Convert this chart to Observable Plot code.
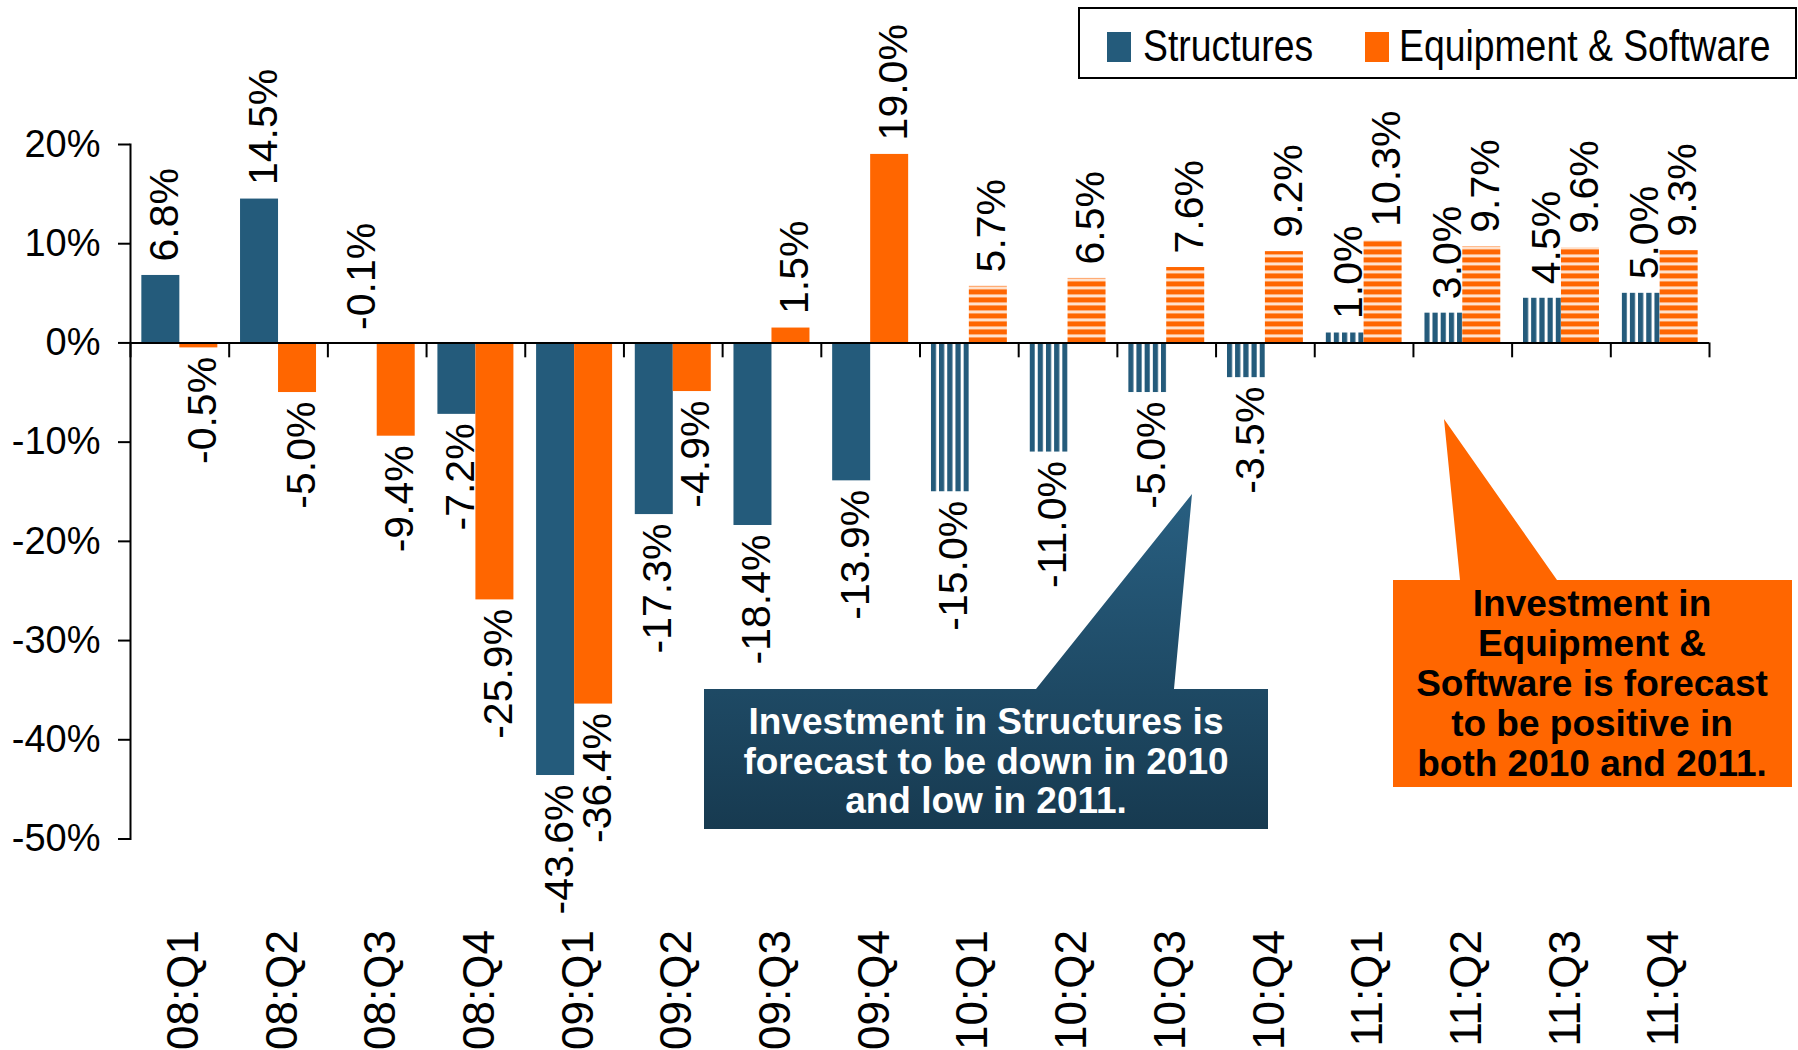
<!DOCTYPE html>
<html><head><meta charset="utf-8">
<script src="https://cdn.jsdelivr.net/npm/d3@7"></script>
<script src="https://cdn.jsdelivr.net/npm/@observablehq/plot@0.6"></script>
<style>
body{margin:0;background:#fff;}
#chart{width:1798px;height:1050px;}
</style></head><body><div id="chart"></div>
<script>
const quarters = ["08:Q1","08:Q2","08:Q3","08:Q4","09:Q1","09:Q2","09:Q3","09:Q4","10:Q1","10:Q2","10:Q3","10:Q4","11:Q1","11:Q2","11:Q3","11:Q4"];
const structures = [6.8,14.5,-0.1,-7.2,-43.6,-17.3,-18.4,-13.9,-15.0,-11.0,-5.0,-3.5,1.0,3.0,4.5,5.0];
const equipment = [-0.5,-5.0,-9.4,-25.9,-36.4,-4.9,1.5,19.0,5.7,6.5,7.6,9.2,10.3,9.7,9.6,9.3];
const forecastFrom = "10:Q1";
const yTicks = [-50,-40,-30,-20,-10,0,10,20];
const seriesNames = ["Structures","Equipment & Software"];
const seriesColors = ["#245b7b","#ff6600"];
const calloutStructures = ["Investment in Structures is","forecast to be down in 2010","and low in 2011."];
const calloutEquipment = ["Investment in","Equipment &","Software is forecast","to be positive in","both 2010 and 2011."];

const W = 1798, H = 1050;
const mL = 130, mR = 89, mT = 144, mB = 211.5;
const bw = (W - mL - mR) / quarters.length;
const barW = 38;
const outer = (bw - 2 * barW) / 2;
const fIdx = quarters.indexOf(forecastFrom);

const rows = quarters.flatMap((q, i) => [
  {quarter: q, series: seriesNames[0], value: structures[i], forecast: i >= fIdx},
  {quarter: q, series: seriesNames[1], value: equipment[i], forecast: i >= fIdx}
]);
const S = rows.filter(d => d.series === seriesNames[0]);
const E = rows.filter(d => d.series === seriesNames[1]);
const isAbove = d => d.value > -0.3;
const fmt = d => d.value.toFixed(1) + "%";

const sInset = {insetLeft: outer, insetRight: bw - outer - barW};
const eInset = {insetLeft: outer + barW, insetRight: outer};
const sDx = -bw / 2 + outer + barW / 2 + 4;
const eDx = -bw / 2 + outer + barW * 1.5 + 4;

const labelMark = (data, dx, above) => Plot.text(data.filter(d => above ? isAbove(d) : !isAbove(d)), {
  x: "quarter", y: "value", text: fmt, rotate: -90,
  textAnchor: above ? "start" : "end", dx, dy: above ? -14 : 9,
  fontSize: 41, fill: "#000", ariaLabel: "value labels"
});

const svg = Plot.plot({
  width: W, height: H, marginLeft: mL, marginRight: mR, marginTop: mT, marginBottom: mB,
  style: {fontFamily: "'Liberation Sans', Arial, sans-serif", color: "#000", background: "#fff", overflow: "visible"},
  x: {type: "band", domain: quarters, padding: 0, round: false},
  y: {domain: [-50, 20]},
  marks: [
    Plot.barY(S.filter(d => !d.forecast), {x: "quarter", y: "value", fill: seriesColors[0], ...sInset}),
    Plot.barY(S.filter(d => d.forecast), {x: "quarter", y: "value", fill: "url(#stripeV)", ...sInset}),
    Plot.barY(E.filter(d => !d.forecast), {x: "quarter", y: "value", fill: seriesColors[1], ...eInset}),
    Plot.barY(E.filter(d => d.forecast), {x: "quarter", y: "value", fill: "url(#stripeH)", ...eInset}),
    Plot.ruleY([0], {stroke: "#000", strokeWidth: 2}),
    Plot.ruleX(quarters, {x: d => d, y1: 0, y2: -1.5, dx: -bw / 2, stroke: "#000", strokeWidth: 2}),
    Plot.ruleX(quarters.slice(-1), {x: d => d, y1: 0, y2: -1.5, dx: bw / 2, stroke: "#000", strokeWidth: 2}),
    Plot.frame({anchor: "left", stroke: "#000", strokeWidth: 2}),
    Plot.axisY({ticks: yTicks, tickFormat: d => d + "%", tickSize: 12, tickPadding: 18, fontSize: 38, strokeWidth: 2, label: null}),
    Plot.axisX({tickRotate: -90, tickSize: 0, tickPadding: 91, fontSize: 44, dx: 4, label: null}),
    labelMark(S, sDx, true), labelMark(S, sDx, false),
    labelMark(E, eDx, true), labelMark(E, eDx, false)
  ]
});
document.getElementById("chart").appendChild(svg);

const root = d3.select(svg);
root.selectAll('g[aria-label="value labels"] text').attr("transform", function() {
  return this.getAttribute("transform") + " scale(0.87,1)";
});

const y0 = mT + (H - mT - mB) * (20 / 70);
const defs = root.insert("defs", ":first-child");
const pv = defs.append("pattern").attr("id", "stripeV").attr("patternUnits", "objectBoundingBox")
  .attr("width", 8.2 / barW).attr("height", 1);
pv.append("rect").attr("width", 5.2).attr("height", 2000).attr("fill", seriesColors[0]);
const ph = defs.append("pattern").attr("id", "stripeH").attr("patternUnits", "userSpaceOnUse")
  .attr("x", 0).attr("y", y0).attr("width", 2000).attr("height", 8);
ph.append("rect").attr("width", 2000).attr("height", 3).attr("fill", "#ffe1cc");
ph.append("rect").attr("y", 3).attr("width", 2000).attr("height", 5).attr("fill", seriesColors[1]);
const gr = defs.append("linearGradient").attr("id", "calloutGrad").attr("x1", 0).attr("y1", 0).attr("x2", 0).attr("y2", 1);
gr.append("stop").attr("offset", 0).attr("stop-color", "#285f81");
gr.append("stop").attr("offset", 1).attr("stop-color", "#173a50");

// Legend
const lg = root.append("g").attr("font-family", "'Liberation Sans', Arial, sans-serif").attr("text-anchor", "start");
lg.append("rect").attr("x", 1079).attr("y", 8).attr("width", 717).attr("height", 70)
  .attr("fill", "#fff").attr("stroke", "#000").attr("stroke-width", 2);
const legendItems = [{sx: 1107, tx: 1143}, {sx: 1365, tx: 1399}];
seriesNames.forEach((name, i) => {
  lg.append("rect").attr("x", legendItems[i].sx).attr("y", 32).attr("width", 24).attr("height", 30).attr("fill", seriesColors[i]);
  lg.append("text").attr("transform", `translate(${legendItems[i].tx},61) scale(0.83,1)`)
    .attr("text-anchor", "start").attr("font-size", 45).attr("fill", "#000").text(name);
});

// Callouts
const cg = root.append("g").attr("font-family", "'Liberation Sans', Arial, sans-serif")
  .attr("font-weight", "bold").attr("font-size", 37).attr("text-anchor", "middle");
cg.append("path").attr("d", "M704,689 L1036,689 L1192,494 L1174,689 L1268,689 L1268,829 L704,829 Z")
  .attr("fill", "url(#calloutGrad)");
calloutStructures.forEach((t, i) => {
  cg.append("text").attr("x", 986).attr("y", 734 + i * 39.5).attr("fill", "#fff").text(t);
});
cg.append("path").attr("d", "M1393,580 L1460,580 L1444,419 L1557,580 L1792,580 L1792,787 L1393,787 Z")
  .attr("fill", seriesColors[1]);
calloutEquipment.forEach((t, i) => {
  cg.append("text").attr("x", 1592).attr("y", 616 + i * 40).attr("fill", "#000").text(t);
});
</script></body></html>
